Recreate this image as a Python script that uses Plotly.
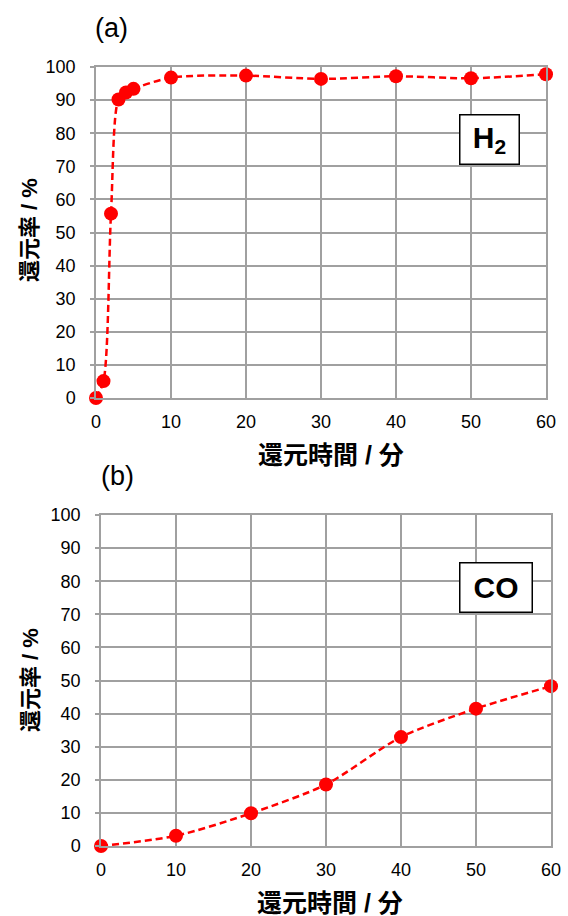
import plotly.graph_objects as go

# Reduction ratio vs. reduction time
h2_time = [0, 1, 2, 3, 4, 5, 10, 20, 30, 40, 50, 60]
h2_ratio = [0, 5.1, 55.7, 90.2, 92.3, 93.4, 96.8, 97.4, 96.4, 97.2, 96.6, 97.8]

co_time = [0, 10, 20, 30, 40, 50, 60]
co_ratio = [0, 3.1, 9.9, 18.6, 32.9, 41.5, 48.3]

x_ticks = [0, 10, 20, 30, 40, 50, 60]
y_ticks = [0, 10, 20, 30, 40, 50, 60, 70, 80, 90, 100]

x_title = "還元時間 / 分"
y_title = "還元率 / %"

W, H = 568, 916
FONT = "Liberation Sans, Arial, Noto Sans CJK JP, sans-serif"
RED = "#ff0000"
GRID = "#a0a0a0"


def px(x):
    return x / W


def py(y):
    return 1 - y / H


fig = go.Figure()

line_style = dict(color=RED, width=2.5, dash="7px,4px", shape="spline", smoothing=0.8)
marker_style = dict(color=RED, size=14)

fig.add_trace(go.Scatter(x=h2_time, y=h2_ratio, mode="lines+markers",
                         line=line_style, marker=marker_style,
                         cliponaxis=False, xaxis="x", yaxis="y", showlegend=False))
fig.add_trace(go.Scatter(x=co_time, y=co_ratio, mode="lines+markers",
                         line=line_style, marker=marker_style,
                         cliponaxis=False, xaxis="x2", yaxis="y2", showlegend=False))

axis_common = dict(
    showgrid=True, gridcolor=GRID, gridwidth=1.5,
    showline=True, linecolor=GRID, linewidth=1.5, mirror=True,
    zeroline=False, automargin=False,
    tickfont=dict(family=FONT, size=18, color="#000000"),
)

xaxis_common = dict(axis_common, range=[0, 60], tickmode="array", tickvals=x_ticks,
                    ticks="", ticklabelstandoff=7)
yaxis_common = dict(axis_common, range=[0, 100], tickmode="array", tickvals=y_ticks,
                    ticks="outside", ticklen=4, tickcolor=GRID, tickwidth=1.5,
                    ticklabelstandoff=11)

fig.update_layout(
    template="none",
    width=W, height=H,
    margin=dict(l=0, r=0, t=0, b=0, pad=0, autoexpand=False),
    paper_bgcolor="white", plot_bgcolor="white",
    xaxis=dict(xaxis_common, domain=[px(96), px(546)], anchor="y"),
    yaxis=dict(yaxis_common, domain=[py(398), py(67)], anchor="x"),
    xaxis2=dict(xaxis_common, domain=[px(101), px(551)], anchor="y2"),
    yaxis2=dict(yaxis_common, domain=[py(846), py(515)], anchor="x2"),
)

xtitle_font = dict(family=FONT, size=25, color="#000000")
ytitle_font = dict(family=FONT, size=22, color="#000000")
panel_font = dict(family=FONT, size=27, color="#000000")
label_font = dict(family=FONT, size=30, color="#000000")

annotations = [
    # panel letters
    dict(text="(a)", x=px(111), y=py(28), font=panel_font),
    dict(text="(b)", x=px(117), y=py(476), font=panel_font),
    # axis titles
    dict(text=f"<b>{x_title}</b>", x=px(331), y=py(455), font=xtitle_font),
    dict(text=f"<b>{x_title}</b>", x=px(330), y=py(903), font=xtitle_font),
    dict(text=f"<b>{y_title}</b>", x=px(30), y=py(230), font=ytitle_font, textangle=-90),
    dict(text=f"<b>{y_title}</b>", x=px(30), y=py(680), font=ytitle_font, textangle=-90),
    # gas labels
    dict(text="<b>H<sub>2</sub></b>", x=px(489), y=py(139), font=label_font,
         bgcolor="white", bordercolor="#000000", borderwidth=1.5, borderpad=0,
         width=58, height=48),
    dict(text="<b>CO</b>", x=px(495.5), y=py(587.5), font=label_font,
         bgcolor="white", bordercolor="#000000", borderwidth=1.5, borderpad=0,
         width=71, height=48),
]
for a in annotations:
    a.update(xref="paper", yref="paper", showarrow=False,
             xanchor="center", yanchor="middle")
fig.update_layout(annotations=annotations)

fig.write_html("out.html")
